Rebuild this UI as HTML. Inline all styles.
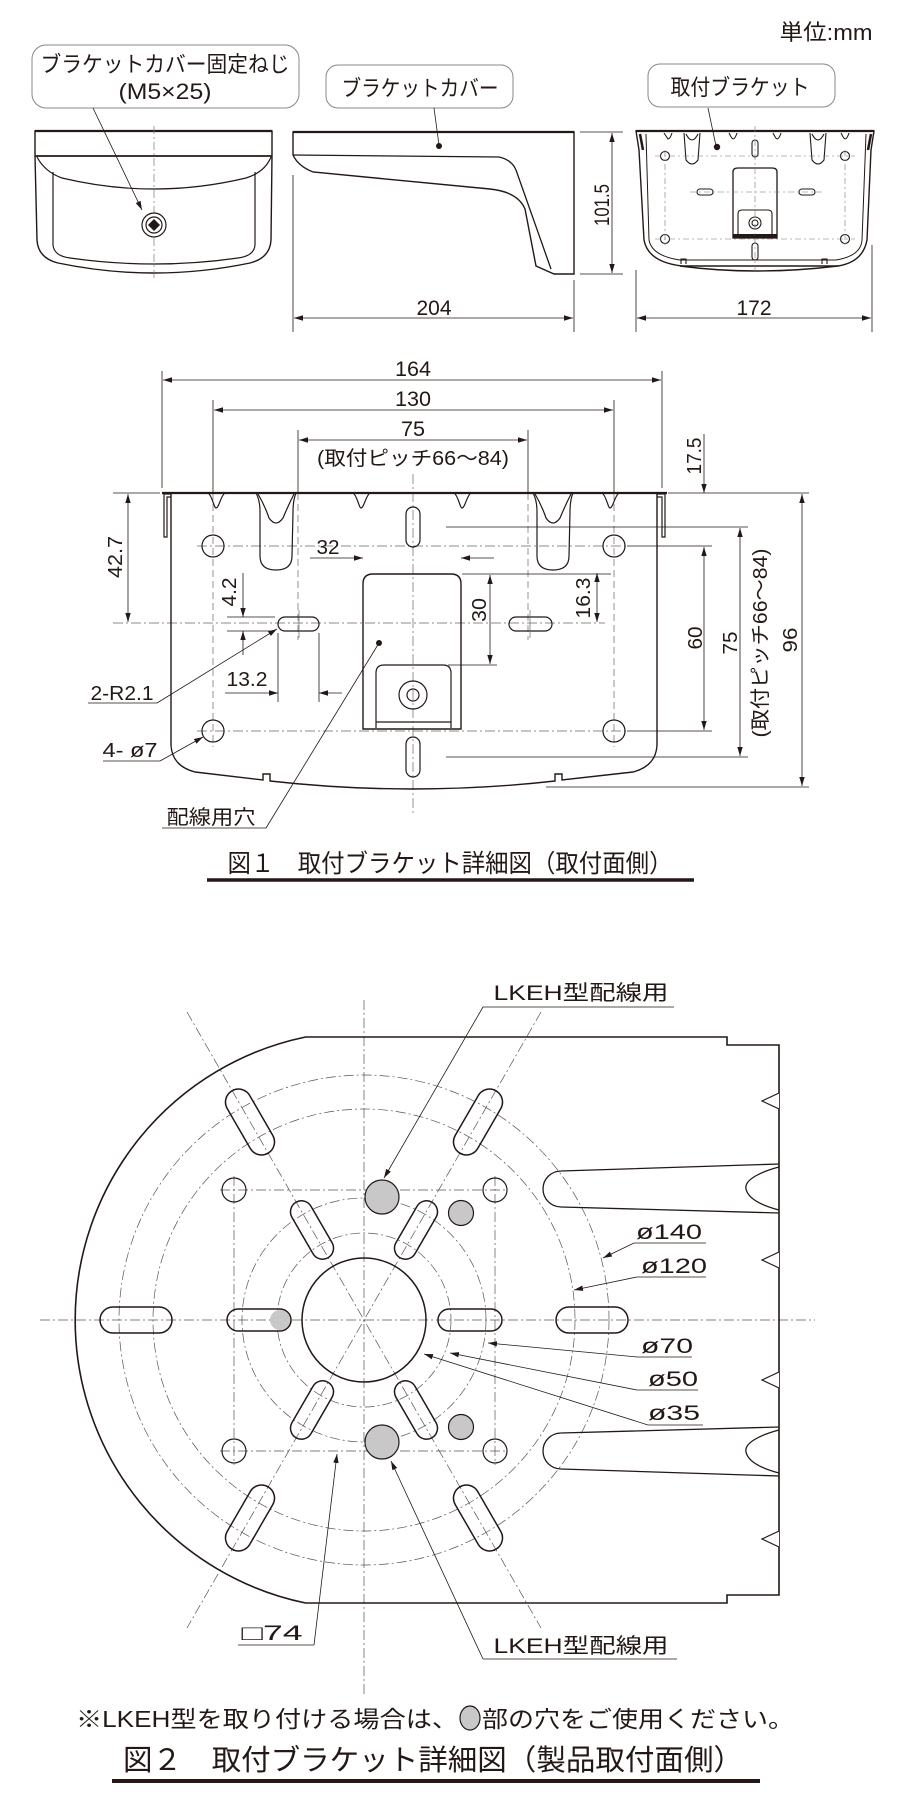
<!DOCTYPE html>
<html><head><meta charset="utf-8"><style>
html,body{margin:0;padding:0;background:#fff;}
svg{display:block;}
text{font-family:"Liberation Sans","Noto Sans CJK JP",sans-serif;fill:#231815;}
</style></head><body>
<svg width="910" height="1820" viewBox="0 0 910 1820" xmlns="http://www.w3.org/2000/svg">
<defs>
<marker id="a" viewBox="0 0 10 6" refX="10" refY="3" markerWidth="9" markerHeight="6" markerUnits="userSpaceOnUse" orient="auto-start-reverse"><path d="M0,0 L10,3 L0,6Z" fill="#231815"/></marker>
</defs>
<g fill="none" stroke="#231815">

<text x="826" y="40" font-size="22" text-anchor="middle" stroke="none" textLength="93" lengthAdjust="spacingAndGlyphs">単位:mm</text>

<rect x="32" y="45" width="267" height="63" rx="14" stroke="#888" stroke-width="1"/>
<text x="165" y="72" font-size="22" text-anchor="middle" stroke="none" textLength="249" lengthAdjust="spacingAndGlyphs">ブラケットカバー固定ねじ</text>
<text x="165" y="99" font-size="22" text-anchor="middle" stroke="none" textLength="93" lengthAdjust="spacingAndGlyphs">(M5×25)</text>
<rect x="326" y="65" width="187" height="43" rx="12" stroke="#888" stroke-width="1"/>
<text x="420" y="96" font-size="22" text-anchor="middle" stroke="none" textLength="157" lengthAdjust="spacingAndGlyphs">ブラケットカバー</text>
<rect x="648" y="64" width="187" height="43" rx="12" stroke="#888" stroke-width="1"/>
<text x="740" y="95" font-size="22" text-anchor="middle" stroke="none" textLength="139" lengthAdjust="spacingAndGlyphs">取付ブラケット</text>

<path d="M35,131 L272,131 L272,156 L271,240 Q270,258 250,263 Q154,283 58,263 Q38,258 37,240 L35,156 Z" stroke-width="1.4"/>
<line x1="35" y1="131" x2="272" y2="131" stroke-width="2.2"/>
<line x1="35" y1="156" x2="272" y2="156" stroke-width="1.8"/>
<path d="M37,157 Q45,172 62,178 Q154,200 246,178 Q265,172 271,157" stroke-width="1.2"/>
<path d="M53,172 L53,245 Q54,256 70,258 Q154,270 238,258 Q254,256 255,245 L255,172" stroke-width="1.2"/>
<line x1="154" y1="126" x2="154" y2="280" stroke="#777" stroke-width="0.7" stroke-dasharray="8 3 2 3"/>
<circle cx="154" cy="225" r="12" stroke-width="1.2" fill="#fff"/>
<circle cx="154" cy="225" r="8" stroke-width="1.2"/>
<path d="M154,219 L160,225 L154,231 L148,225Z" fill="#231815" stroke="none"/>
<line x1="93" y1="108" x2="142" y2="210" stroke-width="0.8" marker-end="url(#a)"/>

<path d="M293,132 L574,132 L574,274 L554,274 L536,266 L525,209 Q518,192 490,189 L313,172 Q298,166 293,155 Z" stroke-width="1.4"/>
<line x1="293" y1="132" x2="574" y2="132" stroke-width="2.2"/>
<path d="M293,155 L499,157 Q512,160 516,170 L551,269" stroke-width="1.3"/>
<line x1="434" y1="108" x2="439" y2="145" stroke-width="0.8"/>
<circle cx="439" cy="146" r="3" fill="#231815" stroke="none"/>

<path d="M636,131 L874,131 L871,150 L867,240 Q863,262 838,266 L682,266 Q648,262 644,240 L639,150 Z" stroke-width="1.4"/>
<line x1="636" y1="131" x2="874" y2="131" stroke-width="2.2"/>
<path d="M646,134 L649,240 Q652,256 680,260 L836,260 Q861,256 862,240 L866,134" stroke-width="1"/>
<path d="M680,266 Q755,276 838,266" stroke-width="1.4"/>
<path d="M640,134 L643,150 M871,134 L868,150" stroke-width="2.5"/>
<g stroke-width="1.1">
<path d="M664,133 Q668,139 668,139 Q670,139 672,133"/>
<path d="M729,133 Q732,139 733,139 Q735,139 737,133"/>
<path d="M773,133 Q776,139 777,139 Q779,139 781,133"/>
<path d="M841,133 Q844,139 845,139 Q847,139 849,133"/>
<path d="M684,133 L686,160 Q692,168 698,160 L700,133"/>
<path d="M686,134 Q692,146 698,134"/>
<path d="M810,133 L812,160 Q818,168 824,160 L826,133"/>
<path d="M812,134 Q818,146 824,134"/>
<circle cx="665" cy="156" r="4.5"/><circle cx="845" cy="156" r="4.5"/>
<circle cx="665" cy="239" r="4.5"/><circle cx="845" cy="239" r="4.5"/>
<rect x="752" y="140" width="6" height="17" rx="3"/>
<rect x="752" y="243" width="6" height="17" rx="3"/>
<rect x="697" y="189" width="16" height="6" rx="3"/>
<rect x="799" y="189" width="16" height="6" rx="3"/>
<path d="M733,238 L733,172 Q733,168 738,168 L772,168 Q777,168 777,172 L777,238 Z" stroke-width="1.3"/>
<path d="M738,237 L738,214 Q738,210 742,210 L768,210 Q772,210 772,214 L772,237" />
<circle cx="755" cy="223" r="6"/><circle cx="755" cy="223" r="3"/>
<rect x="733" y="234" width="44" height="4" fill="#231815" stroke="none"/>
<path d="M681,264 L681,259 L686,259 L686,264 M822,264 L822,259 L827,259 L827,264"/>
</g>
<g stroke="#777" stroke-width="0.6" stroke-dasharray="6 3 2 3">
<line x1="755" y1="126" x2="755" y2="272"/>
<line x1="655" y1="156" x2="855" y2="156"/>
<line x1="655" y1="239" x2="855" y2="239"/>
<line x1="665" y1="150" x2="665" y2="245"/>
<line x1="845" y1="150" x2="845" y2="245"/>
<line x1="690" y1="192" x2="822" y2="192"/>
</g>
<line x1="708" y1="108" x2="716" y2="146" stroke-width="0.8"/>
<circle cx="717" cy="147" r="3.2" fill="#231815" stroke="none"/>

<g stroke-width="0.8">
<line x1="612" y1="133" x2="612" y2="273" marker-start="url(#a)" marker-end="url(#a)"/>
<line x1="580" y1="132" x2="623" y2="132"/><line x1="580" y1="274" x2="623" y2="274"/>
<line x1="294" y1="318" x2="573" y2="318" marker-start="url(#a)" marker-end="url(#a)"/>
<line x1="637" y1="318" x2="871" y2="318" marker-start="url(#a)" marker-end="url(#a)"/>
<line x1="293" y1="175" x2="293" y2="332"/><line x1="574" y1="280" x2="574" y2="332"/>
<line x1="636" y1="270" x2="636" y2="332"/><line x1="872" y1="245" x2="872" y2="332"/>
</g>
<text transform="translate(609,205) rotate(-90)" font-size="21" text-anchor="middle" stroke="none" textLength="42" lengthAdjust="spacingAndGlyphs">101.5</text>
<text x="434" y="315" font-size="21" text-anchor="middle" stroke="none" textLength="35" lengthAdjust="spacingAndGlyphs">204</text>
<text x="754" y="315" font-size="21" text-anchor="middle" stroke="none" textLength="35" lengthAdjust="spacingAndGlyphs">172</text>

<!-- ===== FIG 1 ===== -->
<g stroke-width="0.8">
<line x1="163" y1="380" x2="661" y2="380" marker-start="url(#a)" marker-end="url(#a)"/>
<line x1="214" y1="410" x2="613" y2="410" marker-start="url(#a)" marker-end="url(#a)"/>
<line x1="299" y1="440" x2="527" y2="440" marker-start="url(#a)" marker-end="url(#a)"/>
<line x1="162" y1="371" x2="162" y2="488"/><line x1="662" y1="371" x2="662" y2="488"/>
<line x1="213" y1="400" x2="213" y2="493"/><line x1="614" y1="400" x2="614" y2="493"/>
<line x1="298" y1="430" x2="298" y2="493"/><line x1="528" y1="430" x2="528" y2="493"/>
</g>
<text x="413" y="376" font-size="21" text-anchor="middle" stroke="none" textLength="36" lengthAdjust="spacingAndGlyphs">164</text>
<text x="413" y="406" font-size="21" text-anchor="middle" stroke="none" textLength="36" lengthAdjust="spacingAndGlyphs">130</text>
<text x="413" y="436" font-size="21" text-anchor="middle" stroke="none" textLength="24" lengthAdjust="spacingAndGlyphs">75</text>
<text x="413" y="465" font-size="20" text-anchor="middle" stroke="none" textLength="192" lengthAdjust="spacingAndGlyphs">(取付ピッチ66〜84)</text>

<g stroke="#666" stroke-width="0.7" stroke-dasharray="7 4">
<line x1="213" y1="493" x2="213" y2="747"/><line x1="614" y1="493" x2="614" y2="747"/>
<line x1="298" y1="493" x2="298" y2="640"/><line x1="528" y1="493" x2="528" y2="640"/>
</g>
<g stroke="#666" stroke-width="0.7" stroke-dasharray="10 3 2 3">
<line x1="413" y1="474" x2="413" y2="815"/>
<line x1="197" y1="546" x2="627" y2="546"/><line x1="197" y1="731" x2="627" y2="731"/>
<line x1="113" y1="623" x2="605" y2="623"/>
</g>

<path d="M171,493 L171,745 Q172,766 195,772 L263,780 L263,774 L270,774 L270,781 Q413,797 555,781 L555,774 L562,774 L562,780 L633,772 Q656,766 657,745 L657,493" stroke-width="1.4"/>
<line x1="162" y1="493" x2="667" y2="493" stroke-width="2.2"/>
<path d="M171,494 L164,494 L164,537 L167,537 L167,497 L171,497" stroke-width="1.2"/>
<path d="M657,494 L665,494 L665,537 L662,537 L662,497 L657,497" stroke-width="1.2"/>
<g stroke-width="1.2">
<path d="M208,493 C212,495 214,508 216,508 C219,508 221,495 225,493"/>
<path d="M353,493 C357,495 359,508 361,508 C364,508 366,495 370,493"/>
<path d="M454,493 C458,495 460,508 462,508 C465,508 467,495 471,493"/>
<path d="M602,493 C606,495 608,508 610,508 C613,508 615,495 619,493"/>
<path d="M256,493 Q260,500 260,512 L260,556 Q260,570 276,570 Q292,570 292,556 L293,512 Q293,500 296,493"/>
<path d="M258,494 Q265,506 269,518 Q276,528 283,518 Q288,506 294,494"/>
<path d="M533,493 Q537,500 537,512 L537,556 Q537,570 553,570 Q569,570 569,556 L570,512 Q570,500 573,493"/>
<path d="M535,494 Q542,506 546,518 Q553,528 560,518 Q565,506 571,494"/>
<ellipse cx="213" cy="546" rx="11" ry="11"/><ellipse cx="614" cy="546" rx="11" ry="11"/>
<ellipse cx="213" cy="731" rx="11" ry="11"/><ellipse cx="614" cy="731" rx="11" ry="11"/>
<rect x="278" y="617" width="41" height="14" rx="7"/>
<rect x="509" y="617" width="43" height="14" rx="7"/>
<rect x="406" y="507" width="14" height="40" rx="7"/>
<rect x="406" y="737" width="14" height="40" rx="7"/>
<path d="M363,729 L363,584 Q363,574 373,574 L451,574 Q461,574 461,584 L461,729 Z" stroke-width="1.4"/>
<path d="M376,728 L376,673 Q376,665 384,665 L443,665 Q451,665 451,673 L451,728" />
<line x1="376" y1="722" x2="451" y2="722"/>
<circle cx="413" cy="695" r="14"/><circle cx="413" cy="695" r="6"/>
</g>
<circle cx="379" cy="643" r="3" fill="#231815" stroke="none"/>
<g stroke="#666" stroke-width="0.7">
<line x1="299" y1="610" x2="299" y2="638"/><line x1="530" y1="610" x2="530" y2="638"/>
</g>

<g stroke-width="0.8">
<line x1="128" y1="494" x2="128" y2="622" marker-start="url(#a)" marker-end="url(#a)"/>
<line x1="113" y1="493" x2="160" y2="493"/>
<line x1="243" y1="573" x2="243" y2="617" marker-end="url(#a)"/>
<line x1="243" y1="655" x2="243" y2="631" marker-end="url(#a)"/>
<line x1="227" y1="617" x2="275" y2="617"/><line x1="227" y1="631" x2="275" y2="631"/>
<line x1="225" y1="693" x2="278" y2="693" marker-end="url(#a)"/>
<line x1="342" y1="693" x2="319" y2="693" marker-end="url(#a)"/>
<line x1="278" y1="633" x2="278" y2="702"/><line x1="319" y1="633" x2="319" y2="702"/>
<line x1="310" y1="558" x2="363" y2="558" marker-end="url(#a)"/>
<line x1="494" y1="558" x2="461" y2="558" marker-end="url(#a)"/>
<line x1="490" y1="575" x2="490" y2="664" marker-start="url(#a)" marker-end="url(#a)"/>
<line x1="462" y1="574" x2="611" y2="574"/><line x1="448" y1="665" x2="497" y2="665"/>
<line x1="597" y1="573" x2="597" y2="622" marker-start="url(#a)" marker-end="url(#a)"/>
<line x1="704" y1="434" x2="704" y2="493" marker-end="url(#a)"/>
<line x1="704" y1="547" x2="704" y2="730" marker-start="url(#a)" marker-end="url(#a)"/>
<line x1="740" y1="528" x2="740" y2="756" marker-start="url(#a)" marker-end="url(#a)"/>
<line x1="802" y1="494" x2="802" y2="786" marker-start="url(#a)" marker-end="url(#a)"/>
<line x1="668" y1="493" x2="809" y2="493"/>
<line x1="627" y1="546" x2="712" y2="546"/><line x1="627" y1="731" x2="712" y2="731"/>
<line x1="446" y1="527" x2="748" y2="527"/><line x1="446" y1="757" x2="748" y2="757"/>
<line x1="546" y1="787" x2="809" y2="787"/>
<line x1="88" y1="703" x2="157" y2="703"/><line x1="157" y1="703" x2="277" y2="629" marker-end="url(#a)"/>
<line x1="103" y1="761" x2="160" y2="761"/><line x1="160" y1="761" x2="203" y2="737" marker-end="url(#a)"/>
<line x1="162" y1="828" x2="266" y2="828"/><line x1="266" y1="828" x2="379" y2="643"/>
</g>
<g stroke="none" font-size="20">
<text transform="translate(122,557) rotate(-90)" text-anchor="middle" textLength="42" lengthAdjust="spacingAndGlyphs">42.7</text>
<text transform="translate(236,592) rotate(-90)" text-anchor="middle" textLength="29" lengthAdjust="spacingAndGlyphs">4.2</text>
<text x="247" y="686" text-anchor="middle" textLength="41" lengthAdjust="spacingAndGlyphs">13.2</text>
<text x="328" y="554" text-anchor="middle" textLength="23" lengthAdjust="spacingAndGlyphs">32</text>
<text transform="translate(486,610) rotate(-90)" text-anchor="middle" textLength="24" lengthAdjust="spacingAndGlyphs">30</text>
<text transform="translate(590,598) rotate(-90)" text-anchor="middle" textLength="41" lengthAdjust="spacingAndGlyphs">16.3</text>
<text transform="translate(701,456) rotate(-90)" text-anchor="middle" textLength="37" lengthAdjust="spacingAndGlyphs">17.5</text>
<text transform="translate(702,638) rotate(-90)" text-anchor="middle" textLength="23" lengthAdjust="spacingAndGlyphs">60</text>
<text transform="translate(737,643) rotate(-90)" text-anchor="middle" textLength="23" lengthAdjust="spacingAndGlyphs">75</text>
<text transform="translate(767,643) rotate(-90)" text-anchor="middle" textLength="189" lengthAdjust="spacingAndGlyphs">(取付ピッチ66〜84)</text>
<text transform="translate(797,640) rotate(-90)" text-anchor="middle" textLength="25" lengthAdjust="spacingAndGlyphs">96</text>
<text x="122" y="700" text-anchor="middle" textLength="63" lengthAdjust="spacingAndGlyphs">2-R2.1</text>
<text x="130" y="757" text-anchor="middle" textLength="55" lengthAdjust="spacingAndGlyphs">4- ø7</text>
<text x="211" y="824" text-anchor="middle" textLength="89" lengthAdjust="spacingAndGlyphs">配線用穴</text>
<text x="450" y="872" font-size="25" text-anchor="middle" textLength="445" lengthAdjust="spacingAndGlyphs">図１　取付ブラケット詳細図（取付面側）</text>
</g>
<line x1="207" y1="880" x2="694" y2="880" stroke-width="3.5"/>

<!-- ===== FIG 2 ===== -->
<g stroke="#555" stroke-width="0.7" stroke-dasharray="10 3 2 3">
<line x1="40" y1="1320" x2="815" y2="1320"/>
<line x1="364" y1="1000" x2="364" y2="1694"/>
<line x1="187" y1="1012" x2="541" y2="1628"/>
<line x1="541" y1="1012" x2="187" y2="1628"/>
<circle cx="364" cy="1320" r="245"/>
<circle cx="364" cy="1320" r="211"/>
<circle cx="364" cy="1320" r="122"/>
<circle cx="364" cy="1320" r="87"/>
<line x1="220" y1="1190" x2="508" y2="1190"/><line x1="220" y1="1451" x2="508" y2="1451"/>
<line x1="234" y1="1176" x2="234" y2="1465"/><line x1="495" y1="1176" x2="495" y2="1465"/>
</g>
<path d="M305.6,1037 L727,1037 L727,1045 L779,1045 L779,1595 L727,1595 L727,1603 L305.6,1603 A289 289 0 0 1 305.6,1037 Z" stroke-width="1.6"/>
<g stroke-width="1.2" fill="#fff">
<path d="M779,1093 L762,1101 L779,1109"/>
<path d="M779,1252 L762,1260 L779,1268"/>
<path d="M779,1372 L762,1380 L779,1388"/>
<path d="M779,1531 L762,1539 L779,1547"/>
</g>
<g stroke-width="1.3">
<path d="M779,1164 L561,1171 A18 18 0 0 0 561,1207 L779,1213"/>
<path d="M779,1167 C760,1172 744,1180 746,1189 C748,1198 760,1205 779,1210"/>
<path d="M779,1427 L561,1433 A18 18 0 0 0 561,1469 L779,1476"/>
<path d="M779,1430 C760,1435 744,1443 746,1452 C748,1461 760,1468 779,1473"/>
</g>
<g fill="#c8c8c8" stroke="#231815" stroke-width="1.2">
<circle cx="382" cy="1197" r="17"/><circle cx="382" cy="1442" r="17"/>
<circle cx="461" cy="1213" r="12.5"/><circle cx="461" cy="1427" r="12.5"/>
<circle cx="280" cy="1320" r="10" stroke="none"/>
</g>
<g stroke-width="1.5">
<circle cx="364" cy="1320" r="62"/>
<circle cx="234" cy="1190" r="12" stroke-width="1.2"/><circle cx="495" cy="1190" r="12" stroke-width="1.2"/>
<circle cx="234" cy="1451" r="12" stroke-width="1.2"/><circle cx="495" cy="1451" r="12" stroke-width="1.2"/>
<rect x="-36" y="-13" width="72" height="26" rx="13" transform="translate(136,1320)"/>
<rect x="-36" y="-13" width="72" height="26" rx="13" transform="translate(592,1320)"/>
<rect x="-36" y="-13" width="72" height="26" rx="13" transform="translate(250,1122) rotate(60)"/>
<rect x="-36" y="-13" width="72" height="26" rx="13" transform="translate(478,1122) rotate(-60)"/>
<rect x="-36" y="-13" width="72" height="26" rx="13" transform="translate(250,1518) rotate(-60)"/>
<rect x="-36" y="-13" width="72" height="26" rx="13" transform="translate(478,1518) rotate(60)"/>
<rect x="-32" y="-11" width="64" height="22" rx="11" transform="translate(259,1320)"/>
<rect x="-32" y="-11" width="64" height="22" rx="11" transform="translate(470,1320)"/>
<rect x="-32" y="-11" width="64" height="22" rx="11" transform="translate(312,1230) rotate(60)"/>
<rect x="-32" y="-11" width="64" height="22" rx="11" transform="translate(416,1230) rotate(-60)"/>
<rect x="-32" y="-11" width="64" height="22" rx="11" transform="translate(312,1410) rotate(-60)"/>
<rect x="-32" y="-11" width="64" height="22" rx="11" transform="translate(416,1410) rotate(60)"/>
</g>
<g stroke-width="0.8">
<line x1="483" y1="1007" x2="674" y2="1007"/><line x1="483" y1="1007" x2="384" y2="1178" marker-end="url(#a)"/>
<line x1="634" y1="1243" x2="706" y2="1243"/><line x1="634" y1="1243" x2="603" y2="1258" marker-end="url(#a)"/>
<line x1="637" y1="1277" x2="706" y2="1277"/><line x1="637" y1="1277" x2="574" y2="1290" marker-end="url(#a)"/>
<line x1="637" y1="1357" x2="692" y2="1357"/><line x1="637" y1="1357" x2="488" y2="1343" marker-end="url(#a)"/>
<line x1="637" y1="1390" x2="698" y2="1390"/><line x1="637" y1="1390" x2="450" y2="1353" marker-end="url(#a)"/>
<line x1="648" y1="1425" x2="703" y2="1425"/><line x1="648" y1="1425" x2="424" y2="1354" marker-end="url(#a)"/>
<line x1="238" y1="1645" x2="314" y2="1645"/><line x1="314" y1="1645" x2="337" y2="1454" marker-end="url(#a)"/>
<line x1="483" y1="1659" x2="677" y2="1659"/><line x1="483" y1="1659" x2="391" y2="1461" marker-end="url(#a)"/>
</g>
<g stroke="none" font-size="21">
<text x="581" y="1000" text-anchor="middle" textLength="175" lengthAdjust="spacingAndGlyphs">LKEH型配線用</text>
<text x="669" y="1239" text-anchor="middle" textLength="66" lengthAdjust="spacingAndGlyphs">ø140</text>
<text x="674" y="1273" text-anchor="middle" textLength="66" lengthAdjust="spacingAndGlyphs">ø120</text>
<text x="667" y="1353" text-anchor="middle" textLength="52" lengthAdjust="spacingAndGlyphs">ø70</text>
<text x="673" y="1386" text-anchor="middle" textLength="50" lengthAdjust="spacingAndGlyphs">ø50</text>
<text x="674" y="1420" text-anchor="middle" textLength="52" lengthAdjust="spacingAndGlyphs">ø35</text>
<text x="272" y="1640" text-anchor="middle" textLength="61" lengthAdjust="spacingAndGlyphs">□74</text>
<text x="581" y="1653" text-anchor="middle" textLength="175" lengthAdjust="spacingAndGlyphs">LKEH型配線用</text>
<text x="76" y="1727" font-size="23" textLength="382" lengthAdjust="spacingAndGlyphs">※LKEH型を取り付ける場合は、</text>
<text x="482" y="1727" font-size="23" textLength="312" lengthAdjust="spacingAndGlyphs">部の穴をご使用ください。</text>
<text x="433" y="1770" font-size="29" text-anchor="middle" textLength="620" lengthAdjust="spacingAndGlyphs">図２　取付ブラケット詳細図（製品取付面側）</text>
</g>
<ellipse cx="470" cy="1718" rx="10" ry="12" fill="#c8c8c8" stroke="#231815" stroke-width="1.2"/>
<line x1="112" y1="1781" x2="760" y2="1781" stroke-width="4"/>
</g>
</svg>
</body></html>
